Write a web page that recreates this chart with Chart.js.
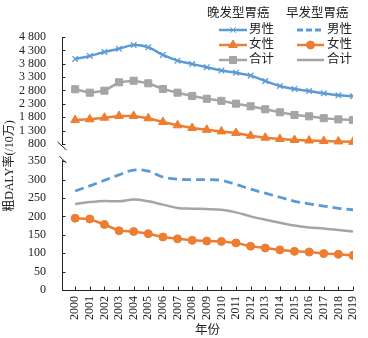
<!DOCTYPE html>
<html><head><meta charset="utf-8">
<script src="https://cdn.jsdelivr.net/npm/chart.js@4/dist/chart.umd.min.js"></script>
<style>html,body{margin:0;padding:0;background:#fff;}canvas{display:block;}</style>
</head><body>
<canvas id="c" width="368" height="338"></canvas>
<script>
const years = ['2000','2001','2002','2003','2004','2005','2006','2007','2008','2009','2010','2011','2012','2013','2014','2015','2016','2017','2018','2019'];
const lateMale   = [3980,4090,4240,4360,4500,4415,4130,3915,3790,3670,3545,3465,3355,3155,2970,2856,2781,2695,2620,2590];
const lateFemale = [1697,1723,1783,1847,1847,1760,1622,1498,1398,1330,1270,1211,1110,1036,987,950,930,910,895,880];
const lateTotal  = [2845,2718,2793,3106,3166,3069,2856,2718,2594,2490,2413,2307,2209,2097,1985,1884,1835,1765,1720,1697];
const earlyMale   = [269,283,298,313,326,323,307,301,300,300,298,287,274,263,252,241,234,228,222,218];
const earlyFemale = [195,193,178,161,159,153,144,139,135,133,132,128,119,114,109,105,103,99,97,94];
const earlyTotal  = [234,239,242,241,246,241,232,223,221,220,218,211,200,191,183,175,170,167,163,159];
const topTicks = [800,1300,1800,2300,2800,3300,3800,4300,4800];
const bottomTicks = [0,50,100,150,200,250,300,350];
const legendHeaders = ['晚发型胃癌','早发型胃癌'];
const legendNames = ['男性','女性','合计'];
const yTitle = '粗DALY率(/10万)';
const xTitle = '年份';

const BLUE='#5B9BD5', ORANGE='#ED7D31', GRAY='#A5A5A5', TXT='#222';
const SERIF='"Liberation Serif","Times New Roman",serif';
const CJK='"Liberation Serif","Noto Sans CJK SC",serif';
const pts = arr => arr.map((v,i)=>({x:i,y:v}));
const fmt = v => String(v).replace(/\B(?=(\d{3})+$)/g,' ');

const datasets = [
  {label:'晚发男性', data:pts(lateMale), yAxisID:'yTop', borderColor:BLUE, backgroundColor:BLUE, borderWidth:2.5, tension:0.35, pointStyle:'crossRot', pointRadius:4, pointBorderWidth:1.3},
  {label:'晚发女性', data:pts(lateFemale), yAxisID:'yTop', borderColor:ORANGE, backgroundColor:ORANGE, borderWidth:2.5, tension:0, pointStyle:'triangle', pointRadius:5, pointBorderWidth:1},
  {label:'晚发合计', data:pts(lateTotal), yAxisID:'yTop', borderColor:GRAY, backgroundColor:GRAY, borderWidth:2.5, tension:0, pointStyle:'rect', pointRadius:5, pointBorderWidth:1},
  {label:'早发男性', data:pts(earlyMale), yAxisID:'yBot', borderColor:BLUE, borderWidth:2.8, borderDash:[9,5], tension:0.35, pointRadius:0},
  {label:'早发女性', data:pts(earlyFemale), yAxisID:'yBot', borderColor:ORANGE, backgroundColor:ORANGE, borderWidth:2.5, tension:0, pointStyle:'circle', pointRadius:4, pointBorderWidth:1},
  {label:'早发合计', data:pts(earlyTotal), yAxisID:'yBot', borderColor:GRAY, borderWidth:2.5, tension:0.35, pointRadius:0}
];

const decor = {
  id:'decor',
  afterDraw(chart){
    const ctx=chart.ctx, ca=chart.chartArea, x=chart.scales.x, yT=chart.scales.yTop, yB=chart.scales.yBot;
    ctx.save();
    ctx.strokeStyle=TXT; ctx.lineWidth=1;
    const ax = Math.round(ca.left)+0.5;
    const t1=yT.getPixelForValue(4800), t2=yT.getPixelForValue(800)+1;
    ctx.beginPath(); ctx.moveTo(ax,t1); ctx.lineTo(ax,t2); ctx.stroke();
    const b1=yB.getPixelForValue(350)-1, b2=yB.getPixelForValue(0);
    ctx.beginPath(); ctx.moveTo(ax,b1); ctx.lineTo(ax,b2+0.5); ctx.stroke();
    ctx.beginPath(); ctx.moveTo(ax-5,t2-3); ctx.lineTo(ax+4,t2+5); ctx.stroke();
    ctx.beginPath(); ctx.moveTo(ax-3,b1-4); ctx.lineTo(ax+4,b1+3); ctx.stroke();
    topTicks.forEach(v=>{const p=Math.round(yT.getPixelForValue(v))+0.5; ctx.beginPath(); ctx.moveTo(ax,p); ctx.lineTo(ax+3,p); ctx.stroke();});
    bottomTicks.forEach(v=>{const p=Math.round(yB.getPixelForValue(v))+0.5; ctx.beginPath(); ctx.moveTo(ax,p); ctx.lineTo(ax+3,p); ctx.stroke();});
    const by=Math.round(ca.bottom)+0.5;
    ctx.beginPath(); ctx.moveTo(ax,by); ctx.lineTo(x.getPixelForValue(years.length-1),by); ctx.stroke();
    years.forEach((y,i)=>{const p=Math.round(x.getPixelForValue(i))+0.5; ctx.beginPath(); ctx.moveTo(p,by); ctx.lineTo(p,by-4); ctx.stroke();});
    ctx.fillStyle=TXT; ctx.font='12px '+CJK; ctx.textAlign='center'; ctx.textBaseline='middle';
    ctx.translate(10,166); ctx.rotate(-Math.PI/2); ctx.fillText(yTitle,0,0);
    ctx.restore();
    ctx.save();
    ctx.fillStyle=TXT; ctx.font='12.5px '+CJK; ctx.textBaseline='middle'; ctx.textAlign='left';
    ctx.fillText(legendHeaders[0],207,14);
    ctx.fillText(legendHeaders[1],286,14);
    const rows=[30,45,60];
    const cols=[{x0:219,x1:247,tx:249,ds:[0,1,2]},{x0:297,x1:324,tx:327,ds:[3,4,5]}];
    cols.forEach(c=>{
      c.ds.forEach((di,r)=>{
        const d=datasets[di], y=rows[r];
        ctx.save();
        ctx.strokeStyle=d.borderColor; ctx.lineWidth=d.borderWidth;
        if(d.borderDash) ctx.setLineDash([6,3]);
        ctx.beginPath(); ctx.moveTo(c.x0,y); ctx.lineTo(c.x1,y); ctx.stroke();
        ctx.restore();
        if(d.pointRadius>0){
          ctx.save(); ctx.fillStyle=d.borderColor; ctx.strokeStyle=d.borderColor;
          Chart.helpers.drawPoint(ctx,{pointStyle:d.pointStyle,radius:d.pointRadius,borderWidth:d.pointBorderWidth,rotation:0},(c.x0+c.x1)/2,y);
          ctx.restore();
        }
        ctx.fillStyle=TXT; ctx.font='12.5px '+CJK; ctx.textBaseline='middle';
        ctx.fillText(legendNames[r],c.tx,y);
      });
    });
    ctx.restore();
  }
};

new Chart(document.getElementById('c'),{
  type:'line',
  data:{datasets},
  plugins:[decor],
  options:{
    responsive:false, animation:false, devicePixelRatio:1,
    layout:{padding:{top:37,right:15,left:0,bottom:0}},
    plugins:{legend:{display:false},tooltip:{enabled:false}},
    scales:{
      x:{type:'linear',min:-0.9,max:19,
        grid:{display:false},border:{display:false},
        afterBuildTicks:s=>{s.ticks=years.map((y,i)=>({value:i}));},
        ticks:{autoSkip:false,minRotation:90,maxRotation:90,padding:-2,color:TXT,font:{family:SERIF,size:12},callback:v=>years[v]},
        title:{display:true,text:xTitle,color:TXT,font:{family:CJK,size:12.5},padding:{top:1,bottom:0}},
        afterFit:s=>{s.height=48;}
      },
      yBot:{type:'linear',position:'left',stack:'y',stackWeight:138,min:0,max:375,
        grid:{display:false},border:{display:false},
        afterBuildTicks:s=>{s.ticks=bottomTicks.map(v=>({value:v}));},
        ticks:{autoSkip:false,padding:8,color:TXT,font:{family:SERIF,size:12},callback:v=>fmt(v)},
        afterFit:s=>{s.width=62;}
      },
      yTop:{type:'linear',position:'left',stack:'y',stackWeight:115,min:500,max:4800,
        grid:{display:false},border:{display:false},
        afterBuildTicks:s=>{s.ticks=topTicks.map(v=>({value:v}));},
        ticks:{autoSkip:false,padding:8,color:TXT,font:{family:SERIF,size:12},callback:v=>fmt(v)},
        afterFit:s=>{s.width=62;}
      }
    }
  }
});
</script>
</body></html>
